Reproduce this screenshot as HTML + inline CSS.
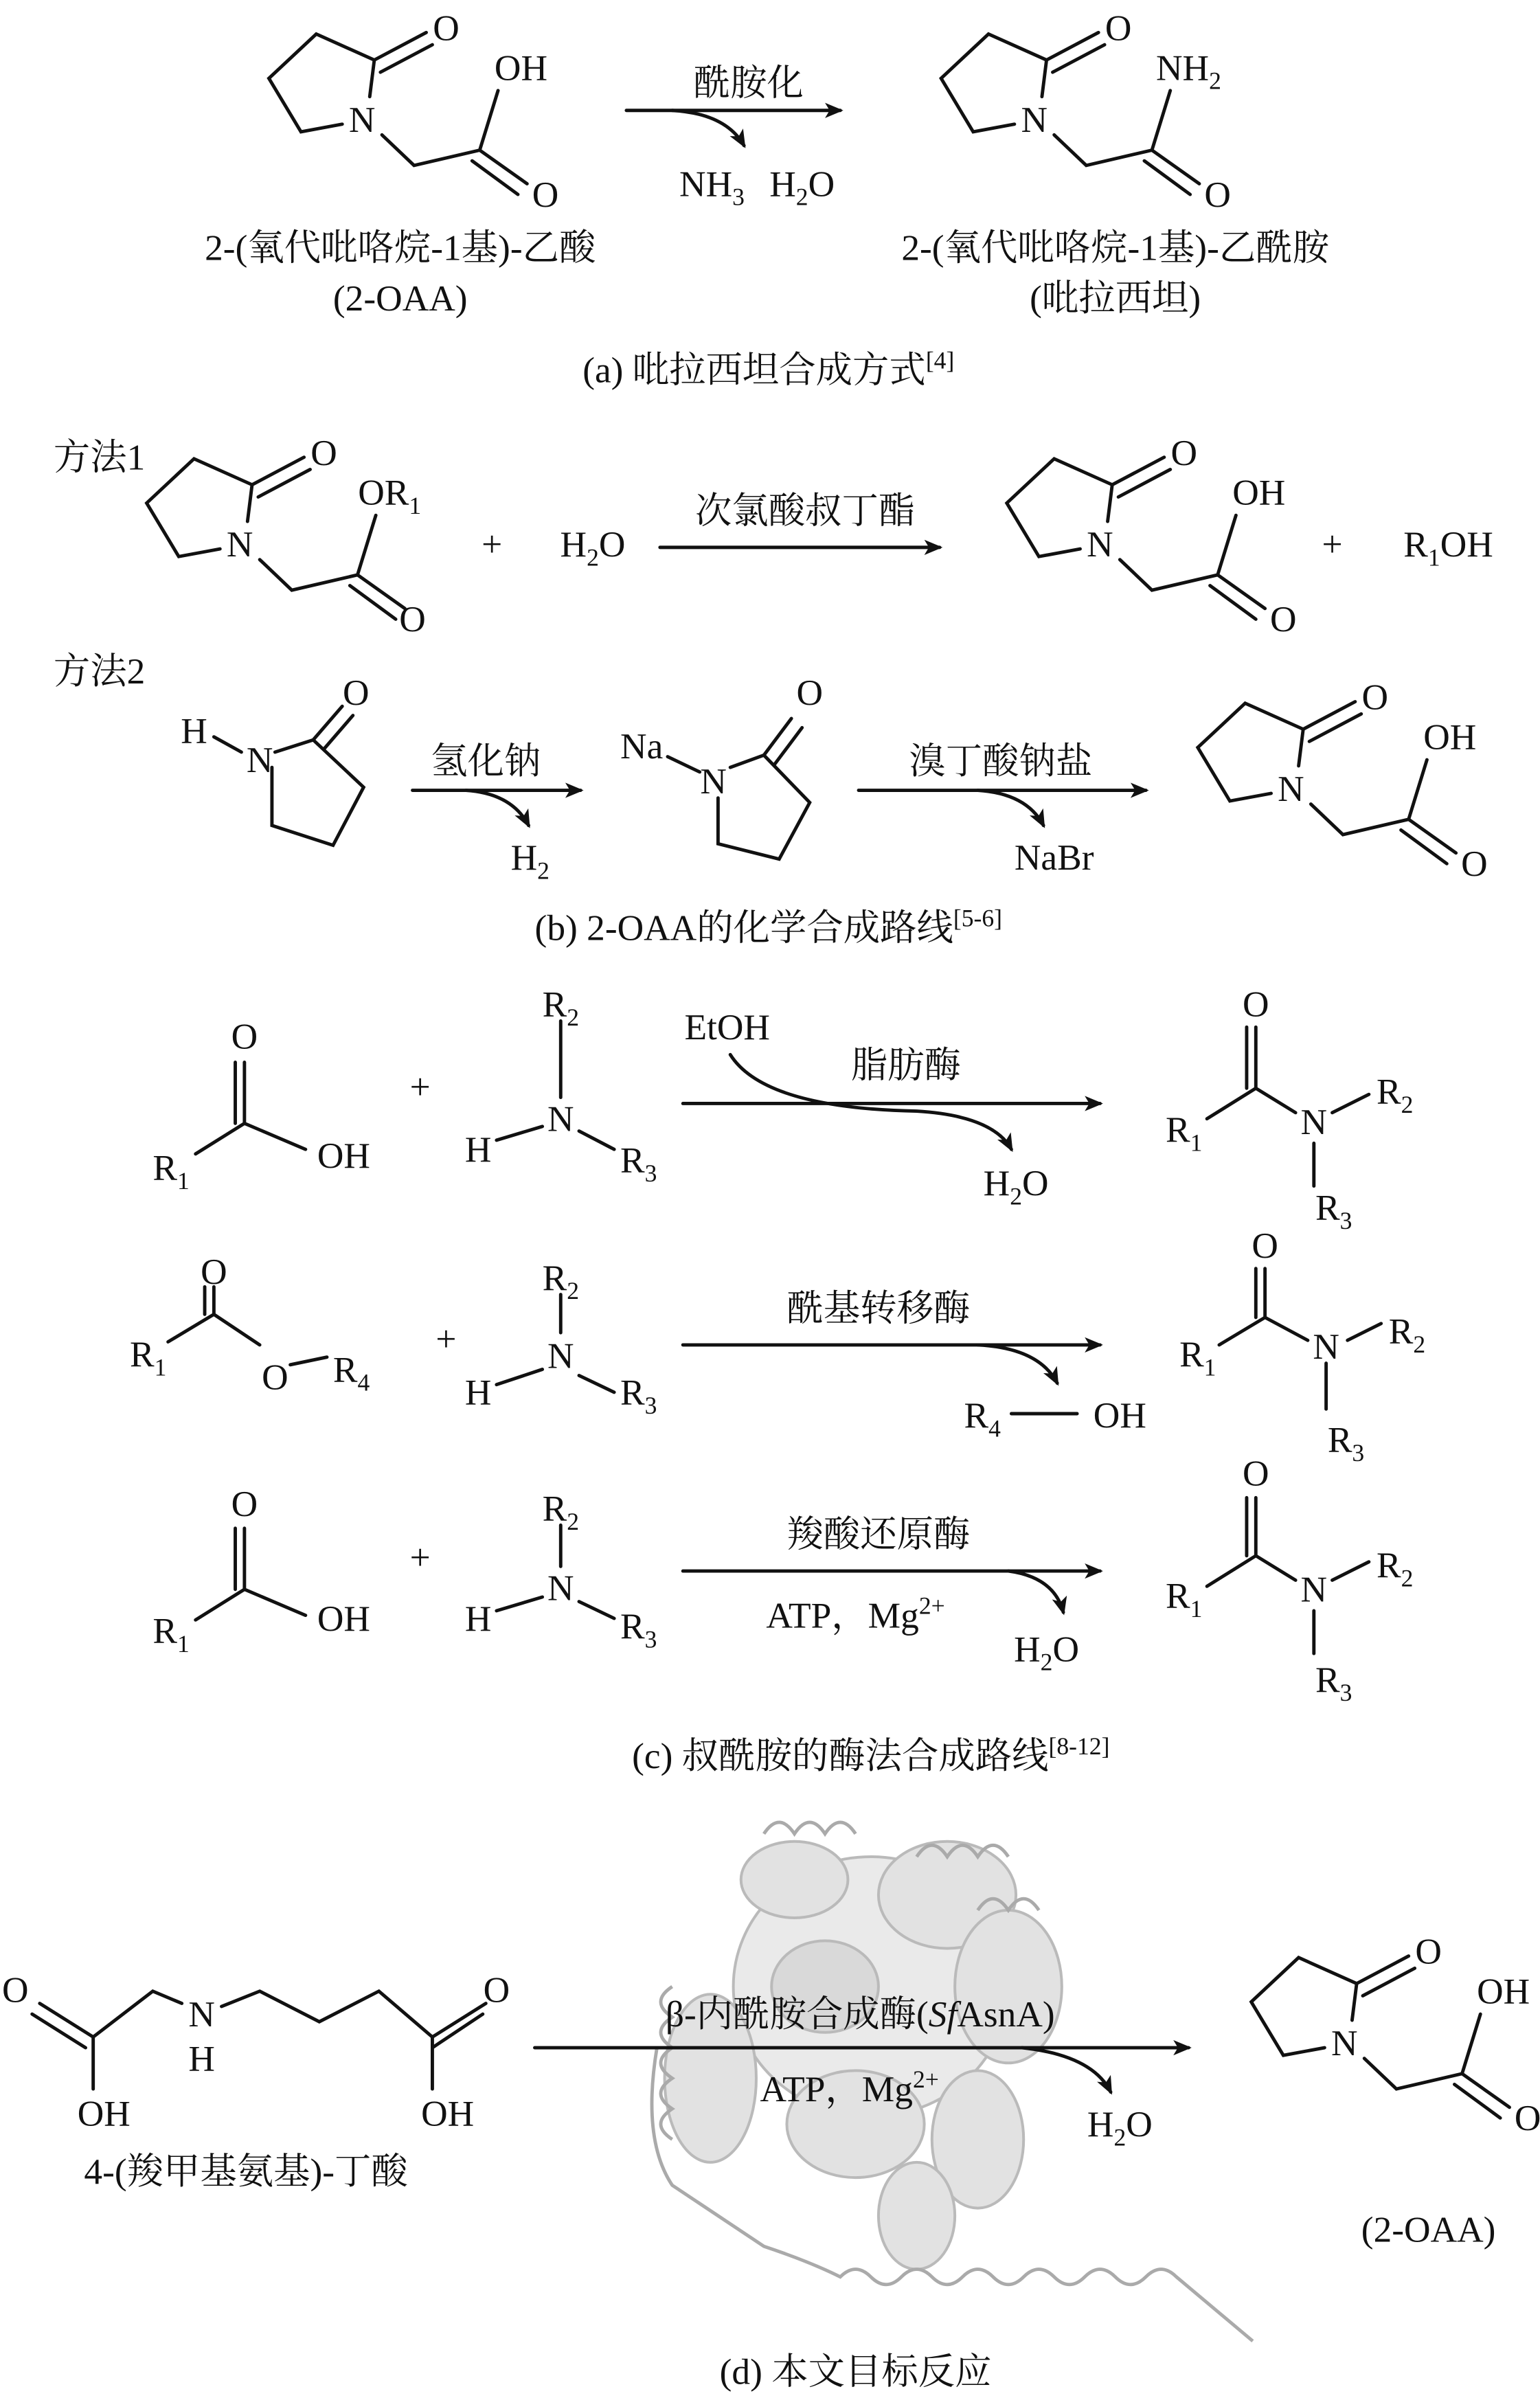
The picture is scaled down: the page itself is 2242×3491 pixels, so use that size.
<!DOCTYPE html>
<html><head><meta charset="utf-8"><style>
html,body{margin:0;padding:0;background:#fff}
svg{display:block}
text{font-family:"Liberation Serif","Noto Serif CJK SC","Noto Sans CJK SC",serif;font-size:24px;fill:#111}
.c{text-anchor:middle}
.s{font-size:16px}
</style></head><body>
<svg width="2242" height="3491" viewBox="0 0 1008 1569" xmlns="http://www.w3.org/2000/svg">
<defs>
<marker id="ah" markerWidth="12" markerHeight="10" refX="10" refY="5" orient="auto" markerUnits="userSpaceOnUse"><path d="M0,0 L12,5 L0,10 L3,5 Z" fill="#111"/></marker>
</defs>

<!-- protein (approximate) -->
<g stroke="#aaa" stroke-width="1.8" fill="#dcdcdc" opacity="0.8">
<ellipse cx="570" cy="1300" rx="90" ry="85" fill="#e6e6e6"/>
<ellipse cx="520" cy="1230" rx="35" ry="25"/>
<ellipse cx="620" cy="1240" rx="45" ry="35"/>
<ellipse cx="660" cy="1300" rx="35" ry="50"/>
<ellipse cx="465" cy="1360" rx="30" ry="55"/>
<ellipse cx="560" cy="1390" rx="45" ry="35"/>
<ellipse cx="640" cy="1400" rx="30" ry="45"/>
<ellipse cx="540" cy="1300" rx="35" ry="30" fill="#d0d0d0"/>
<ellipse cx="600" cy="1450" rx="25" ry="35"/>
</g>
<g stroke="#aaa" stroke-width="2.2" fill="none">
<path d="M430,1340 Q420,1400 440,1430 Q470,1450 500,1470 Q530,1480 550,1490 q10,-10 20,0 q10,10 20,0 q10,-10 20,0 q10,10 20,0 q10,-10 20,0 q10,10 20,0 q10,-10 20,0 q10,10 20,0 q10,-10 20,0 q10,10 20,0 q10,-10 20,0 L820,1532"/>
<path d="M500,1200 q10,-15 20,0 q10,-15 20,0 q10,-15 20,0 M600,1215 q10,-15 20,0 q10,-15 20,0 q10,-15 20,0 M640,1250 q10,-15 20,0 q10,-15 20,0"/>
<path d="M440,1300 q-15,10 0,20 q-15,10 0,20 q-15,10 0,20 q-15,10 0,20 q-15,10 0,20"/>
</g>

<g stroke="#111" stroke-width="2.2" fill="none" stroke-linecap="round">
<!-- (a) left -->
<g transform="translate(237,77)">
<path d="M-13,4 L-40,9 L-61,-26 L-30,-55 L8,-38 L5,-14"/>
<path d="M8,-38 L42,-56 M12,-30 L46,-48"/>
<path d="M13,11 L34,31 L77,21 L89,-18 M77,21 L108,43 M72,28 L102,50"/>
</g>
<g transform="translate(677,77)">
<path d="M-13,4 L-40,9 L-61,-26 L-30,-55 L8,-38 L5,-14"/>
<path d="M8,-38 L42,-56 M12,-30 L46,-48"/>
<path d="M13,11 L34,31 L77,21 L89,-18 M77,21 L108,43 M72,28 L102,50"/>
</g>
<path d="M410,72 L550,72" marker-end="url(#ah)"/>
<path d="M440,72 Q475,74 487,95" marker-end="url(#ah)"/>

<g transform="translate(157,355)">
<path d="M-13,4 L-40,9 L-61,-26 L-30,-55 L8,-38 L5,-14"/>
<path d="M8,-38 L42,-56 M12,-30 L46,-48"/>
<path d="M13,11 L34,31 L77,21 L89,-18 M77,21 L108,43 M72,28 L102,50"/>
</g>
<g transform="translate(720,355)">
<path d="M-13,4 L-40,9 L-61,-26 L-30,-55 L8,-38 L5,-14"/>
<path d="M8,-38 L42,-56 M12,-30 L46,-48"/>
<path d="M13,11 L34,31 L77,21 L89,-18 M77,21 L108,43 M72,28 L102,50"/>
</g>
<path d="M432,358 L615,358" marker-end="url(#ah)"/>

<path d="M140,482 L158,492"/>
<path d="M178,502 L178,540 L218,553 L238,515 L205,484 L180,492"/>
<path d="M205,484 L224,462 M212,490 L231,468"/>
<path d="M270,517 L380,517" marker-end="url(#ah)"/>
<path d="M305,517 Q335,519 346,540" marker-end="url(#ah)"/>
<path d="M437,495 L458,505"/>
<path d="M470,522 L470,552 L510,562 L530,525 L500,494 L478,502"/>
<path d="M500,494 L518,470 M507,500 L525,476"/>
<path d="M562,517 L750,517" marker-end="url(#ah)"/>
<path d="M640,517 Q672,519 683,540" marker-end="url(#ah)"/>
<g transform="translate(845,515)">
<path d="M-13,4 L-40,9 L-61,-26 L-30,-55 L8,-38 L5,-14"/>
<path d="M8,-38 L42,-56 M12,-30 L46,-48"/>
<path d="M13,11 L34,31 L77,21 L89,-18 M77,21 L108,43 M72,28 L102,50"/>
</g>

<path d="M128,755 L160,735 L200,752 M160,735 L160,695 M154,735 L154,695"/>
<path d="M367,668 L367,718 M325,746 L355,737 M379,740 L402,752"/>
<path d="M447,722 L720,722" marker-end="url(#ah)"/>
<path d="M478,690 Q500,725 600,727 Q650,730 662,752" marker-end="url(#ah)"/>
<path d="M790,732 L822,712 L848,728 M822,712 L822,672 M816,712 L816,672 M872,728 L896,716 M860,748 L860,776"/>
<path d="M110,878 L140,860 L170,880 M140,860 L140,842 M134,860 L134,842 M190,893 L214,888"/>
<path d="M367,847 L367,872 M325,906 L355,896 M379,900 L402,911"/>
<path d="M447,880 L720,880" marker-end="url(#ah)"/>
<path d="M640,880 Q680,882 692,905" marker-end="url(#ah)"/>
<path d="M662,925 L705,925"/>
<path d="M798,880 L828,862 L856,877 M828,862 L828,830 M822,862 L822,830 M882,877 L904,866 M868,892 L868,922"/>
<path d="M128,1060 L160,1040 L200,1057 M160,1040 L160,1000 M154,1040 L154,1000"/>
<path d="M367,998 L367,1025 M325,1054 L355,1045 M379,1048 L402,1059"/>
<path d="M447,1028 L720,1028" marker-end="url(#ah)"/>
<path d="M660,1028 Q690,1032 696,1055" marker-end="url(#ah)"/>
<path d="M790,1038 L822,1018 L848,1034 M822,1018 L822,980 M816,1018 L816,980 M872,1034 L896,1022 M860,1054 L860,1082"/>

<path d="M26,1311 L61,1333 M21,1318 L56,1340 M61,1333 L61,1367 M61,1333 L100,1303 L119,1311 M145,1313 L170,1303 L209,1323 L248,1303 L283,1333 L318,1311 M283,1340 L316,1318 M283,1333 L283,1367"/>
<path d="M350,1340 L778,1340" marker-end="url(#ah)"/>
<path d="M669,1340 Q715,1345 727,1369" marker-end="url(#ah)"/>
<g transform="translate(880,1336)">
<path d="M-13,4 L-40,9 L-61,-26 L-30,-55 L8,-38 L5,-14"/>
<path d="M8,-38 L42,-56 M12,-30 L46,-48"/>
<path d="M13,11 L34,31 L77,21 L89,-18 M77,21 L108,43 M72,28 L102,50"/>
</g>
</g>

<g>
<text x="237" y="86" class="c">N</text><text x="292" y="26" class="c">O</text><text x="341" y="52" class="c">OH</text><text x="357" y="135" class="c">O</text>
<text x="677" y="86" class="c">N</text><text x="732" y="26" class="c">O</text><text x="778" y="52" class="c">NH<tspan class="s" dy="6">2</tspan></text><text x="797" y="135" class="c">O</text>
<text x="490" y="62" class="c">酰胺化</text>
<text x="466" y="128" class="c">NH<tspan class="s" dy="6">3</tspan></text><text x="525" y="128" class="c">H<tspan class="s" dy="6">2</tspan><tspan dy="-6">O</tspan></text>
<text x="262" y="170" class="c">2-(氧代吡咯烷-1基)-乙酸</text>
<text x="262" y="203" class="c">(2-OAA)</text>
<text x="730" y="170" class="c">2-(氧代吡咯烷-1基)-乙酰胺</text>
<text x="730" y="203" class="c">(吡拉西坦)</text>
<text x="503" y="250" class="c">(a) 吡拉西坦合成方式<tspan class="s" dy="-9">[4]</tspan></text>

<text x="35" y="307">方法1</text>
<text x="157" y="364" class="c">N</text><text x="212" y="304" class="c">O</text><text x="255" y="330" class="c">OR<tspan class="s" dy="6">1</tspan></text><text x="270" y="413" class="c">O</text>
<text x="322" y="364" class="c">+</text>
<text x="388" y="364" class="c">H<tspan class="s" dy="6">2</tspan><tspan dy="-6">O</tspan></text>
<text x="527" y="342" class="c">次氯酸叔丁酯</text>
<text x="720" y="364" class="c">N</text><text x="775" y="304" class="c">O</text><text x="824" y="330" class="c">OH</text><text x="840" y="413" class="c">O</text>
<text x="872" y="364" class="c">+</text>
<text x="948" y="364" class="c">R<tspan class="s" dy="6">1</tspan><tspan dy="-6">OH</tspan></text>
<text x="35" y="447">方法2</text>
<text x="127" y="486" class="c">H</text><text x="170" y="505" class="c">N</text><text x="233" y="461" class="c">O</text>
<text x="318" y="506" class="c">氢化钠</text>
<text x="347" y="569" class="c">H<tspan class="s" dy="6">2</tspan></text>
<text x="420" y="496" class="c">Na</text><text x="467" y="519" class="c">N</text><text x="530" y="461" class="c">O</text>
<text x="655" y="506" class="c">溴丁酸钠盐</text>
<text x="690" y="569" class="c">NaBr</text>
<text x="845" y="524" class="c">N</text><text x="900" y="464" class="c">O</text><text x="949" y="490" class="c">OH</text><text x="965" y="573" class="c">O</text>
<text x="503" y="615" class="c">(b) 2-OAA的化学合成路线<tspan class="s" dy="-9">[5-6]</tspan></text>

<text x="160" y="686" class="c">O</text><text x="112" y="772" class="c">R<tspan class="s" dy="6">1</tspan></text><text x="225" y="764" class="c">OH</text>
<text x="275" y="719" class="c">+</text>
<text x="367" y="665" class="c">R<tspan class="s" dy="6">2</tspan></text><text x="367" y="740" class="c">N</text><text x="313" y="760" class="c">H</text><text x="418" y="767" class="c">R<tspan class="s" dy="6">3</tspan></text>
<text x="476" y="680" class="c">EtOH</text><text x="593" y="705" class="c">脂肪酶</text><text x="665" y="782" class="c">H<tspan class="s" dy="6">2</tspan><tspan dy="-6">O</tspan></text>
<text x="822" y="665" class="c">O</text><text x="775" y="747" class="c">R<tspan class="s" dy="6">1</tspan></text><text x="860" y="742" class="c">N</text><text x="913" y="722" class="c">R<tspan class="s" dy="6">2</tspan></text><text x="873" y="798" class="c">R<tspan class="s" dy="6">3</tspan></text>

<text x="140" y="840" class="c">O</text><text x="97" y="894" class="c">R<tspan class="s" dy="6">1</tspan></text><text x="180" y="909" class="c">O</text><text x="230" y="904" class="c">R<tspan class="s" dy="6">4</tspan></text>
<text x="292" y="884" class="c">+</text>
<text x="367" y="844" class="c">R<tspan class="s" dy="6">2</tspan></text><text x="367" y="895" class="c">N</text><text x="313" y="919" class="c">H</text><text x="418" y="919" class="c">R<tspan class="s" dy="6">3</tspan></text>
<text x="575" y="864" class="c">酰基转移酶</text>
<text x="643" y="934" class="c">R<tspan class="s" dy="6">4</tspan></text><text x="733" y="934" class="c">OH</text>
<text x="828" y="823" class="c">O</text><text x="784" y="894" class="c">R<tspan class="s" dy="6">1</tspan></text><text x="868" y="889" class="c">N</text><text x="921" y="879" class="c">R<tspan class="s" dy="6">2</tspan></text><text x="881" y="950" class="c">R<tspan class="s" dy="6">3</tspan></text>

<text x="160" y="992" class="c">O</text><text x="112" y="1075" class="c">R<tspan class="s" dy="6">1</tspan></text><text x="225" y="1067" class="c">OH</text>
<text x="275" y="1027" class="c">+</text>
<text x="367" y="995" class="c">R<tspan class="s" dy="6">2</tspan></text><text x="367" y="1047" class="c">N</text><text x="313" y="1067" class="c">H</text><text x="418" y="1072" class="c">R<tspan class="s" dy="6">3</tspan></text>
<text x="575" y="1012" class="c">羧酸还原酶</text>
<text x="560" y="1065" class="c">ATP，Mg<tspan class="s" dy="-9">2+</tspan></text>
<text x="685" y="1087" class="c">H<tspan class="s" dy="6">2</tspan><tspan dy="-6">O</tspan></text>
<text x="822" y="972" class="c">O</text><text x="775" y="1052" class="c">R<tspan class="s" dy="6">1</tspan></text><text x="860" y="1048" class="c">N</text><text x="913" y="1032" class="c">R<tspan class="s" dy="6">2</tspan></text><text x="873" y="1107" class="c">R<tspan class="s" dy="6">3</tspan></text>
<text x="570" y="1157" class="c">(c) 叔酰胺的酶法合成路线<tspan class="s" dy="-9">[8-12]</tspan></text>

<text x="10" y="1310" class="c">O</text><text x="68" y="1391" class="c">OH</text><text x="132" y="1326" class="c">N</text><text x="132" y="1355" class="c">H</text>
<text x="325" y="1310" class="c">O</text><text x="293" y="1391" class="c">OH</text>
<text x="161" y="1429" class="c">4-(羧甲基氨基)-丁酸</text>
<text x="563" y="1326" class="c">β-内酰胺合成酶(<tspan font-style="italic">Sf</tspan>AsnA)</text>
<text x="556" y="1375" class="c">ATP，Mg<tspan class="s" dy="-9">2+</tspan></text>
<text x="733" y="1398" class="c">H<tspan class="s" dy="6">2</tspan><tspan dy="-6">O</tspan></text>
<text x="880" y="1345" class="c">N</text><text x="935" y="1285" class="c">O</text><text x="984" y="1311" class="c">OH</text><text x="1000" y="1394" class="c">O</text>
<text x="935" y="1467" class="c">(2-OAA)</text>
<text x="560" y="1560" class="c">(d) 本文目标反应</text>
</g>
</svg>
</body></html>
